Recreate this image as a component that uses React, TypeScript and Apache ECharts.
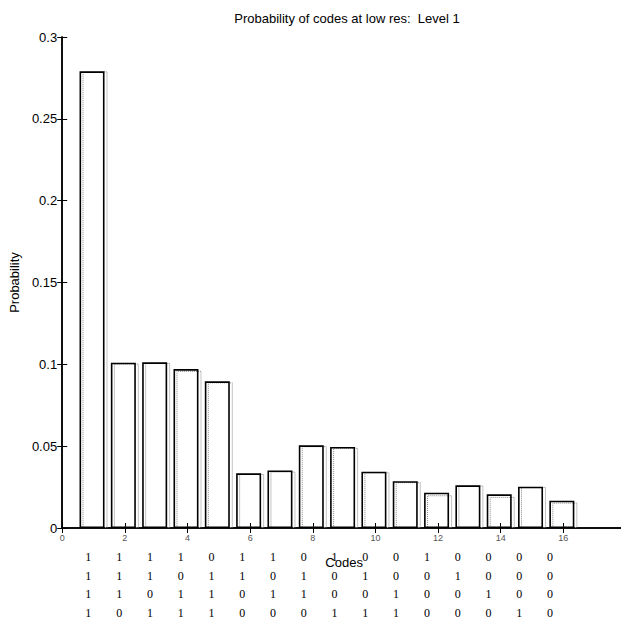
import React, { useEffect, useRef } from "react";
import * as echarts from "echarts";

const codeIndex = [1, 2, 3, 4, 5, 6, 7, 8, 9, 10, 11, 12, 13, 14, 15, 16];
const probSolid = [0.279, 0.101, 0.1012, 0.0971, 0.0896, 0.0334, 0.0352, 0.0505, 0.0495, 0.0344, 0.0286, 0.0216, 0.0261, 0.0206, 0.0252, 0.0167];
const probDotted = [0.279, 0.1005, 0.1008, 0.096, 0.089, 0.033, 0.0345, 0.05, 0.049, 0.034, 0.028, 0.020, 0.026, 0.019, 0.025, 0.0155];
const codeRow1 = ["1", "1", "1", "1", "0", "1", "1", "0", "1", "0", "0", "1", "0", "0", "0", "0"];
const codeRow2 = ["1", "1", "1", "0", "1", "1", "0", "1", "0", "1", "0", "0", "1", "0", "0", "0"];
const codeRow3 = ["1", "1", "0", "1", "1", "0", "1", "1", "0", "0", "1", "0", "0", "1", "0", "0"];
const codeRow4 = ["1", "0", "1", "1", "1", "0", "0", "0", "1", "1", "1", "0", "0", "0", "1", "0"];
const codeRows = [codeRow1, codeRow2, codeRow3, codeRow4];
const xTickLabels = [0, 2, 4, 6, 8, 10, 12, 14, 16];

const SANS = "'Liberation Sans', Arial, Helvetica, sans-serif";
const SERIF = "'Liberation Serif', 'Times New Roman', serif";

export default function App() {
  const ref = useRef<HTMLDivElement>(null);
  useEffect(() => {
    if (!ref.current) return;
    const chart = echarts.init(ref.current, undefined, { renderer: "svg" });
    const rowOffsets = [23, 42, 60, 79];
    const digitAxes = codeRows.map((row, r) => ({
      type: "value",
      gridIndex: 0,
      position: "bottom",
      offset: rowOffsets[r],
      min: 0.15,
      max: 18.47,
      axisLine: { show: false },
      axisTick: { show: false },
      splitLine: { show: false },
      axisLabel: {
        show: true,
        customValues: codeIndex,
        margin: 0,
        fontFamily: SERIF,
        fontSize: 12,
        color: "#000",
        formatter: (v: number) => row[Math.round(v) - 1] ?? "",
      },
    }));
    chart.setOption({
      animation: false,
      backgroundColor: "#fff",
      title: {
        text: "Probability of codes at low res:  Level 1",
        left: 342,
        top: 7,
        textAlign: "center",
        textStyle: { fontFamily: SANS, fontSize: 13, fontWeight: "normal", color: "#000" },
      },
      grid: { left: 58, right: 4, top: 37, bottom: 99, containLabel: false },
      xAxis: [
        {
          type: "value",
          position: "bottom",
          min: 0,
          max: 18,
          interval: 2,
          name: "Codes",
          nameLocation: "middle",
          nameGap: 28,
          nameTextStyle: { fontFamily: SANS, fontSize: 13, color: "#000" },
          axisLine: { show: true, lineStyle: { color: "#000", width: 1.5 } },
          axisTick: { show: true, inside: true, length: 5, lineStyle: { color: "#000" } },
          splitLine: { show: false },
          axisLabel: {
            show: true,
            customValues: xTickLabels,
            margin: 5,
            fontFamily: SANS,
            fontSize: 9,
            color: "#555",
          },
        },
        {
          type: "value",
          position: "top",
          min: 0,
          max: 18,
          interval: 2,
          axisLine: { show: true, lineStyle: { color: "#000", width: 1.5 } },
          axisTick: { show: true, inside: true, length: 5, lineStyle: { color: "#000" } },
          splitLine: { show: false },
          axisLabel: { show: false },
        },
        ...digitAxes,
      ],
      yAxis: [
        {
          type: "value",
          position: "left",
          min: 0,
          max: 0.3,
          interval: 0.05,
          name: "Probability",
          nameLocation: "middle",
          nameGap: 38,
          nameTextStyle: { fontFamily: SANS, fontSize: 13, color: "#000" },
          axisLine: { show: true, lineStyle: { color: "#000", width: 1.5 } },
          axisTick: { show: true, inside: true, length: 5, lineStyle: { color: "#000" } },
          splitLine: { show: false },
          axisLabel: { margin: 5, fontFamily: SANS, fontSize: 13, color: "#000" },
        },
        {
          type: "value",
          position: "right",
          min: 0,
          max: 0.3,
          interval: 0.05,
          axisLine: { show: true, lineStyle: { color: "#000", width: 1.5 } },
          axisTick: { show: true, inside: true, length: 5, lineStyle: { color: "#000" } },
          splitLine: { show: false },
          axisLabel: { show: false },
        },
      ],
      series: [
        {
          type: "bar",
          name: "solid",
          xAxisIndex: 0,
          yAxisIndex: 0,
          barWidth: 25,
          barGap: "-88%",
          z: 3,
          itemStyle: { color: "rgba(255,255,255,0)", borderColor: "#000", borderWidth: 1.6 },
          data: codeIndex.map((c, i) => [c, probSolid[i]]),
        },
        {
          type: "bar",
          name: "dotted",
          xAxisIndex: 0,
          yAxisIndex: 0,
          barWidth: 25,
          barGap: "-88%",
          z: 2,
          itemStyle: { color: "rgba(255,255,255,0)", borderColor: "#888", borderWidth: 1, borderType: "dotted" },
          data: codeIndex.map((c, i) => [c, probDotted[i]]),
        },
      ],
    });
    return () => chart.dispose();
  }, []);
  return (
    <div
      ref={ref}
      style={{ position: "fixed", left: 0, top: 0, width: 630, height: 627, background: "#fff" }}
    />
  );
}
